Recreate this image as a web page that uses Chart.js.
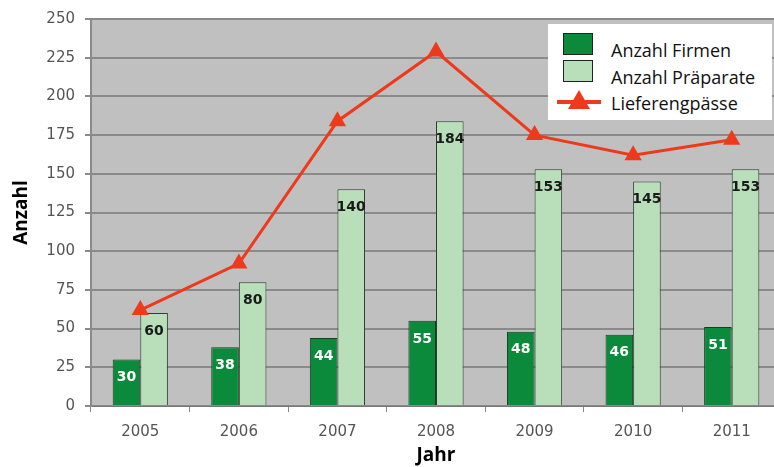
<!DOCTYPE html>
<html>
<head>
<meta charset="utf-8">
<script src="https://cdn.jsdelivr.net/npm/chart.js@4/dist/chart.umd.min.js"></script>
<style>
  body { margin: 0; overflow: hidden; background: #fff; }
  #wrap { position: relative; width: 791px; height: 467px; }
  #legend {
    position: absolute; left: 548px; top: 24px; width: 224px; height: 96px;
    background: #fff; font-family: "Open Sans", sans-serif; font-size: 18px; color: #111;
  }
  .item { position: absolute; left: 0; height: 26px; width: 224px; }
  .item span.txt { position: absolute; left: 63px; top: 6px; line-height: 26px; white-space: nowrap; }
  .box { position: absolute; left: 15px; top: 2px; width: 28px; height: 20px; border: 1px solid #222; }
  .line { position: absolute; left: 9px; top: 16px; width: 44px; height: 4px; }
  .tri { position: absolute; left: 11px; width: 0; height: 0;
         border-left: 11px solid transparent; border-right: 11px solid transparent; }
</style>
</head>
<body>
<div id="wrap">
  <canvas id="chart" width="791" height="467"></canvas>
  <div id="legend"></div>
</div>
<script>
// Daten
const years = ["2005", "2006", "2007", "2008", "2009", "2010", "2011"];
const firmen = [30, 38, 44, 55, 48, 46, 51];
const praeparate = [60, 80, 140, 184, 153, 145, 153];
const engpaesse = [62, 92, 184, 229, 175, 162, 172];
const yTicks = [0, 25, 50, 75, 100, 125, 150, 175, 200, 225, 250];

const red = "#ee3a1c";

// grauer Hintergrund im Plotbereich
const plotBg = {
  id: "plotBg",
  beforeDraw(chart) {
    const { ctx, chartArea: a } = chart;
    ctx.save();
    ctx.fillStyle = "#c0c0c0";
    ctx.fillRect(a.left, a.top, a.right - a.left, a.bottom - a.top);
    ctx.restore();
  }
};

// Zahlen in den Balken
const barLabels = {
  id: "barLabels",
  afterDatasetsDraw(chart) {
    const ctx = chart.ctx;
    ctx.save();
    ctx.font = "bold 14px 'DejaVu Sans'";
    ctx.textAlign = "center";
    ctx.textBaseline = "middle";
    chart.data.datasets.forEach((ds, di) => {
      if (ds.type === "line") return;
      const meta = chart.getDatasetMeta(di);
      ctx.fillStyle = ds.labelColor;
      meta.data.forEach((bar, i) => {
        ctx.fillText(ds.data[i], bar.x, bar.y + 18);
      });
    });
    ctx.restore();
  }
};

const chart = new Chart(document.getElementById("chart"), {
  type: "bar",
  data: {
    labels: years,
    datasets: [
      {
        type: "line",
        label: "Lieferengpässe",
        data: engpaesse,
        borderColor: red,
        backgroundColor: red,
        borderWidth: 3,
        pointStyle: "triangle",
        pointRadius: 10,
        pointBorderWidth: 0,
        tension: 0,
        order: 0
      },
      {
        label: "Anzahl Firmen",
        data: firmen,
        backgroundColor: "#0b8a3b",
        borderColor: "#1d3b20",
        borderWidth: 1,
        labelColor: "#ffffff",
        order: 1
      },
      {
        label: "Anzahl Präparate",
        data: praeparate,
        backgroundColor: "#b8dfba",
        borderColor: "#2e3d30",
        borderWidth: 1,
        labelColor: "#1a1a1a",
        order: 1
      }
    ]
  },
  options: {
    responsive: false,
    animation: false,
    layout: { padding: { top: 18, right: 3, left: 0, bottom: 0 } },
    datasets: { bar: { barPercentage: 1, categoryPercentage: 0.56 } },
    plugins: { legend: { display: false }, tooltip: { enabled: false } },
    scales: {
      x: {
        offset: true,
        afterFit(s) { s.height = 61; },
        grid: { drawOnChartArea: false, offset: true, tickLength: 6, color: "#888" },
        border: { color: "#777", width: 1 },
        ticks: { color: "#555", font: { family: "DejaVu Sans", size: 15 }, padding: 11 },
        title: {
          display: true, text: "Jahr", color: "#000",
          font: { family: "Open Sans", size: 19, weight: "bold" },
          padding: { top: 0, bottom: 0 }
        }
      },
      y: {
        min: 0, max: 250,
        afterFit(s) { s.width = 91; },
        afterBuildTicks(s) { s.ticks = yTicks.map(v => ({ value: v })); },
        grid: { color: "#8a8a8a", lineWidth: 2, tickLength: 6 },
        border: { color: "#8a8a8a", width: 2 },
        ticks: { color: "#555", font: { family: "DejaVu Sans", size: 15 }, padding: 10 },
        title: {
          display: true, text: "Anzahl", color: "#000",
          font: { family: "Open Sans", size: 19, weight: "bold" },
          padding: { top: 10, bottom: 0 }
        }
      }
    }
  },
  plugins: [plotBg, barLabels]
});

// Legende aus den Datensätzen
const legend = document.getElementById("legend");
const legendOrder = [1, 2, 0];
legendOrder.forEach((di, k) => {
  const ds = chart.data.datasets[di];
  const item = document.createElement("div");
  item.className = "item";
  item.style.top = (7 + k * 26.5) + "px";
  if (ds.type === "line") {
    item.innerHTML = '<div class="line" style="background:' + ds.borderColor + '">' +
      '<div class="tri" style="top:-10px;border-bottom:19px solid ' + ds.borderColor + '"></div></div>';
  } else {
    item.innerHTML = '<div class="box" style="background:' + ds.backgroundColor + '"></div>';
  }
  const t = document.createElement("span");
  t.className = "txt";
  t.textContent = ds.label;
  item.appendChild(t);
  legend.appendChild(item);
});
</script>
</body>
</html>
